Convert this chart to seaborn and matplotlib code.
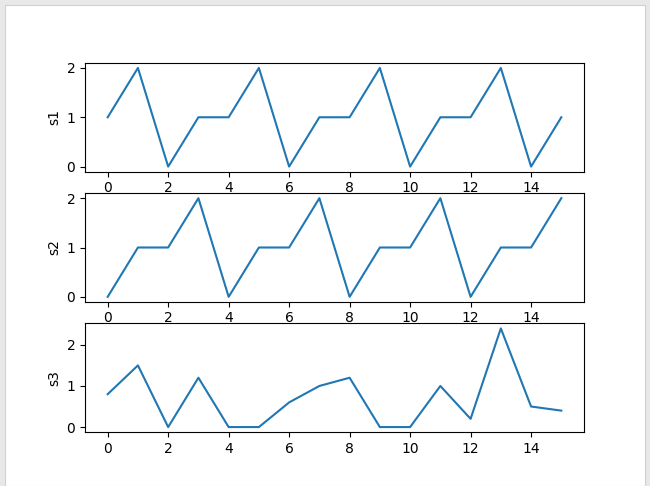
import numpy as np
import pandas as pd
import matplotlib
matplotlib.use('Agg')
import matplotlib.pyplot as plt
import seaborn as sns
from matplotlib.patches import Rectangle

x = list(range(16))
s1 = [1, 2, 0, 1, 1, 2, 0, 1, 1, 2, 0, 1, 1, 2, 0, 1]
s2 = [0, 1, 1, 2, 0, 1, 1, 2, 0, 1, 1, 2, 0, 1, 1, 2]
s3 = [0.8, 1.5, 0, 1.2, 0, 0, 0.6, 1.0, 1.2, 0, 0, 1.0, 0.2, 2.4, 0.5, 0.4]

df = pd.DataFrame({'x': x, 's1': s1, 's2': s2, 's3': s3})

fig, axes = plt.subplots(3, 1, figsize=(6.5, 4.86), dpi=100)
fig.patch.set_facecolor('#e8e8e8')
# white canvas inside the grey window frame
fig.patches.append(Rectangle((5 / 650, 0), 640 / 650, 481 / 486,
                             transform=fig.transFigure, facecolor='white',
                             edgecolor='#d0d0d0', linewidth=0.8, zorder=-1))

for ax, col in zip(axes, ['s1', 's2', 's3']):
    sns.lineplot(data=df, x='x', y=col, ax=ax, color='#1f77b4')
    ax.set_xlabel('')
    ax.set_ylabel(col)

plt.subplots_adjust(left=85 / 650, right=584 / 650, top=1 - 63 / 486,
                    bottom=1 - 432 / 486, hspace=0.2)
plt.savefig('out.png', dpi=100, facecolor=fig.get_facecolor())
